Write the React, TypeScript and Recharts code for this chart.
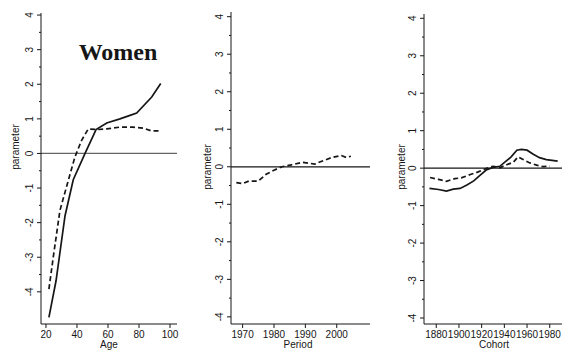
import React from 'react';
import { LineChart, Line, XAxis, YAxis, ReferenceLine } from 'recharts';

// ---- Age panel ----
const ageSolidX = [21.9, 26.5, 32.3, 37.6, 45.2, 52.3, 59.2, 67.7, 74.2, 78.5, 88.2, 94];
const ageSolidY = [-4.74, -3.68, -1.8, -0.76, 0, 0.69, 0.88, 1.0, 1.1, 1.17, 1.63, 2.02];
const ageDashX = [21.9, 24.7, 29, 34.4, 38.7, 43, 47.3, 52.7, 59.2, 67.7, 76.1, 82.8, 88.2, 93.5];
const ageDashY = [-3.92, -3.0, -1.65, -0.78, -0.1, 0.38, 0.71, 0.69, 0.71, 0.76, 0.76, 0.73, 0.65, 0.65];
const ageTicks = [20, 40, 60, 80, 100];

// ---- Period panel ----
const periodX = [1968, 1970, 1972, 1975, 1977.5, 1980, 1982.5, 1985.5, 1989, 1991.5, 1993, 1995, 1998.5, 2001.5, 2003, 2004.5];
const periodDashY = [-0.42, -0.45, -0.38, -0.38, -0.2, -0.09, 0.0, 0.05, 0.12, 0.09, 0.07, 0.14, 0.25, 0.3, 0.25, 0.28];
const periodTicks = [1970, 1980, 1990, 2000];

// ---- Cohort panel ----
const cohortSolidX = [1874, 1882, 1889, 1895, 1901, 1907, 1913, 1918.5, 1924, 1930, 1936, 1942, 1946, 1951, 1955, 1960, 1965.5, 1971, 1977, 1987];
const cohortSolidY = [-0.54, -0.57, -0.61, -0.56, -0.54, -0.45, -0.34, -0.19, -0.05, 0.02, 0.05, 0.2, 0.3, 0.48, 0.5, 0.48, 0.37, 0.28, 0.23, 0.19];
const cohortDashX = [1874.5, 1882, 1889, 1896.5, 1902, 1910, 1917, 1924, 1930, 1936, 1942, 1948, 1952, 1956.5, 1962.5, 1968.5, 1974, 1980];
const cohortDashY = [-0.25, -0.3, -0.35, -0.28, -0.26, -0.17, -0.1, -0.01, 0.05, 0.01, 0.09, 0.16, 0.3, 0.23, 0.14, 0.08, 0.04, 0.05];
const cohortTicks = [1880, 1900, 1920, 1940, 1960, 1980];

const yTicks = [-4, -3.5, -3, -2.5, -2, -1.5, -1, -0.5, 0, 0.5, 1, 1.5, 2, 2.5, 3, 3.5, 4];

const zip = (xs: number[], ys: number[]) => xs.map((x, i) => ({ x, y: ys[i] }));

const FONT = '"Liberation Sans", Arial, sans-serif';
const INK = '#161616';
const YW = 20;
const XH = 30;

const YTick = (props: any) => {
  const { x, y, payload } = props;
  const v = payload.value;
  const major = Number.isInteger(v);
  const tx = x - 8;
  return (
    <g>
      <line x1={x - (major ? 4 : 2)} x2={x} y1={y} y2={y} stroke={INK} strokeWidth={1} />
      {major && (
        <text x={tx} y={y} transform={`rotate(-90 ${tx} ${y})`} textAnchor="middle" fontSize={10} fontFamily={FONT} fill={INK}>
          {v}
        </text>
      )}
    </g>
  );
};

const XTick = (props: any) => {
  const { x, y, payload } = props;
  return (
    <g>
      <line x1={x} x2={x} y1={y} y2={y + 4} stroke={INK} strokeWidth={1} />
      <text x={x} y={y + 14} textAnchor="middle" fontSize={10} fontFamily={FONT} fill={INK}>
        {payload.value}
      </text>
    </g>
  );
};

type PanelProps = {
  left: number;
  right: number;
  top: number;
  xDomain: [number, number];
  yDomain: [number, number];
  xTicks: number[];
  solid?: { x: number; y: number }[];
  dashed?: { x: number; y: number }[];
  zeroColor: string;
};

const W = 564;
const H = 354;

const Panel = ({ left, right, top, xDomain, yDomain, xTicks, solid, dashed, zeroColor }: PanelProps) => (
  <div style={{ position: 'absolute', left: 0, top: 0 }}>
    <LineChart width={W} height={H} margin={{ left: left - YW, right: W - right, top, bottom: 0 }}>
      <XAxis
        type="number"
        dataKey="x"
        domain={xDomain}
        allowDataOverflow
        ticks={xTicks}
        interval={0}
        height={XH}
        tickSize={0}
        tickMargin={0}
        tickLine={false}
        tick={<XTick />}
        axisLine={{ stroke: INK, strokeWidth: 1 }}
      />
      <YAxis
        type="number"
        dataKey="y"
        domain={yDomain}
        allowDataOverflow
        ticks={yTicks}
        interval={0}
        width={YW}
        tickSize={0}
        tickMargin={0}
        tickLine={false}
        tick={<YTick />}
        axisLine={{ stroke: INK, strokeWidth: 1 }}
      />
      <ReferenceLine y={0} stroke={zeroColor} strokeWidth={1.3} />
      {solid && (
        <Line data={solid} dataKey="y" type="linear" stroke={INK} strokeWidth={1.7} dot={false} isAnimationActive={false} />
      )}
      {dashed && (
        <Line data={dashed} dataKey="y" type="linear" stroke={INK} strokeWidth={1.7} strokeDasharray="5 3" dot={false} isAnimationActive={false} />
      )}
    </LineChart>
  </div>
);

export default function App() {
  return (
    <div style={{ position: 'fixed', left: 0, top: 0, width: W, height: H, background: '#fff', overflow: 'hidden' }}>
      <Panel
        left={41}
        right={177}
        top={13}
        xDomain={[16.8, 104.5]}
        yDomain={[-4.93, 4.06]}
        xTicks={ageTicks}
        solid={zip(ageSolidX, ageSolidY)}
        dashed={zip(ageDashX, ageDashY)}
        zeroColor="#666"
      />
      <Panel
        left={231}
        right={370}
        top={12}
        xDomain={[1966.3, 2010.6]}
        yDomain={[-4.19, 4.125]}
        xTicks={periodTicks}
        dashed={zip(periodX, periodDashY)}
        zeroColor={INK}
      />
      <Panel
        left={424}
        right={562}
        top={14}
        xDomain={[1869.2, 1990.8]}
        yDomain={[-4.16, 4.115]}
        xTicks={cohortTicks}
        solid={zip(cohortSolidX, cohortSolidY)}
        dashed={zip(cohortDashX, cohortDashY)}
        zeroColor={INK}
      />
      <svg width={W} height={H} style={{ position: 'absolute', left: 0, top: 0, pointerEvents: 'none' }}>
        <text x={118} y={60} textAnchor="middle" fontSize={24} fontWeight="bold" fontFamily='"Liberation Serif", "Times New Roman", serif' fill={INK}>
          Women
        </text>
        <text x={19} y={147} transform="rotate(-90 19 147)" textAnchor="middle" fontSize={10} fontFamily={FONT} fill={INK}>parameter</text>
        <text x={211} y={167} transform="rotate(-90 211 167)" textAnchor="middle" fontSize={10} fontFamily={FONT} fill={INK}>parameter</text>
        <text x={405} y={167} transform="rotate(-90 405 167)" textAnchor="middle" fontSize={10} fontFamily={FONT} fill={INK}>parameter</text>
        <text x={109} y={348} textAnchor="middle" fontSize={10} fontFamily={FONT} fill={INK}>Age</text>
        <text x={298} y={348} textAnchor="middle" fontSize={10} fontFamily={FONT} fill={INK}>Period</text>
        <text x={494} y={348} textAnchor="middle" fontSize={10} fontFamily={FONT} fill={INK}>Cohort</text>
      </svg>
    </div>
  );
}
